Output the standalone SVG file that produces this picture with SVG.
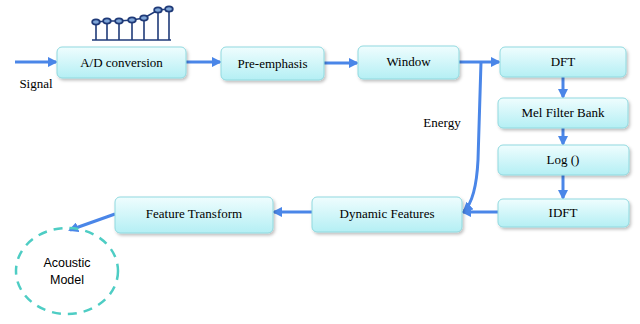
<svg xmlns="http://www.w3.org/2000/svg" width="640" height="324" viewBox="0 0 640 324">
<defs>
<linearGradient id="g" x1="0" y1="0" x2="0" y2="1">
<stop offset="0" stop-color="#effdfe"/>
<stop offset="1" stop-color="#b4eff4"/>
</linearGradient>
<filter id="sh" x="-10%" y="-20%" width="125%" height="150%">
<feDropShadow dx="1.5" dy="2" stdDeviation="1.5" flood-color="#000" flood-opacity="0.25"/>
</filter>
<marker id="ah" viewBox="0 0 10 10" refX="8" refY="5" markerWidth="3.4" markerHeight="3.4" orient="auto" markerUnits="strokeWidth">
<path d="M0,0 L10,5 L0,10 z" fill="#4a86e8"/>
</marker>
</defs>
<style>
.box{fill:url(#g);stroke:#90d9df;stroke-width:1;filter:url(#sh)}
.c{fill:none;stroke:#4a86e8;stroke-width:3;marker-end:url(#ah)}
.w{fill:none;stroke:#1f3a78;stroke-width:1.6}
</style>
<rect width="640" height="324" fill="#fff"/>
<g id="waveform">
<line class="w" x1="92" y1="40" x2="171" y2="40"/>
<g class="w">
<line x1="96" y1="22" x2="96" y2="40"/><line x1="107" y1="21" x2="107" y2="40"/><line x1="119" y1="21" x2="119" y2="40"/><line x1="132" y1="20" x2="132" y2="40"/><line x1="144" y1="18" x2="144" y2="40"/><line x1="158" y1="10" x2="158" y2="40"/><line x1="169" y1="9" x2="169" y2="40"/>
<polyline points="96,22 107,21 119,21 132,20 144,18 158,10 169,9"/>
</g>
<g fill="#7fa6d8" stroke="#1f3a78" stroke-width="1.8">
<ellipse cx="96" cy="22" rx="3.8" ry="2.6"/><ellipse cx="107" cy="21" rx="3.8" ry="2.6"/><ellipse cx="119" cy="21" rx="3.8" ry="2.6"/><ellipse cx="132" cy="20" rx="3.8" ry="2.6"/><ellipse cx="144" cy="18" rx="3.8" ry="2.6"/><ellipse cx="158" cy="10" rx="3.8" ry="2.6"/><ellipse cx="169" cy="9" rx="3.8" ry="2.6"/>
</g>
</g>
<g id="connectors">
<line class="c" x1="15" y1="62" x2="56" y2="62"/>
<line class="c" x1="186" y1="62" x2="220" y2="62"/>
<line class="c" x1="324" y1="63" x2="357" y2="63"/>
<line class="c" x1="459" y1="62" x2="499" y2="62"/>
<path class="c" d="M481,62 L478,160 Q476,200 464,211"/>
<line class="c" x1="563" y1="76" x2="563" y2="97"/>
<line class="c" x1="563" y1="128" x2="563" y2="144"/>
<line class="c" x1="563" y1="175" x2="563" y2="198"/>
<line class="c" x1="498" y1="212" x2="463" y2="212"/>
<line class="c" x1="312" y1="212" x2="274" y2="212"/>
<line class="c" x1="115" y1="214" x2="70" y2="230"/>
</g>
<g font-family="Liberation Serif, DejaVu Serif, serif" font-size="13" fill="#000" text-anchor="middle">
<text x="36" y="88">Signal</text>
<text x="442" y="127">Energy</text>
<g id="ad"><rect class="box" x="57" y="47" width="129" height="31" rx="5"/><text x="121.5" y="67">A/D conversion</text></g>
<g id="pre"><rect class="box" x="221" y="47" width="103" height="33" rx="5"/><text x="272.5" y="68">Pre-emphasis</text></g>
<g id="window"><rect class="box" x="358" y="46" width="101" height="33" rx="5"/><text x="408.5" y="66">Window</text></g>
<g id="dft"><rect class="box" x="500" y="47" width="126" height="30" rx="5"/><text x="563" y="66">DFT</text></g>
<g id="mel"><rect class="box" x="498" y="98" width="130" height="30" rx="5"/><text x="563" y="117">Mel Filter Bank</text></g>
<g id="log"><rect class="box" x="498" y="145" width="131" height="30" rx="5"/><text x="563" y="164">Log ()</text></g>
<g id="idft"><rect class="box" x="498" y="199" width="131" height="28" rx="5"/><text x="563" y="217">IDFT</text></g>
<g id="dyn"><rect class="box" x="312" y="197" width="150" height="35" rx="5"/><text x="387" y="218">Dynamic Features</text></g>
<g id="ft"><rect class="box" x="115" y="197" width="158" height="36" rx="5"/><text x="194" y="218">Feature Transform</text></g>
</g>
<g id="am">
<ellipse cx="67" cy="271" rx="51" ry="43" fill="none" stroke="#4ecdc4" stroke-width="2.5" stroke-dasharray="9,7"/>
<text x="67" y="267" font-family="Liberation Sans, Arial, sans-serif" font-size="12.5" text-anchor="middle">Acoustic</text>
<text x="67" y="284" font-family="Liberation Sans, Arial, sans-serif" font-size="12.5" text-anchor="middle">Model</text>
</g>
</svg>
